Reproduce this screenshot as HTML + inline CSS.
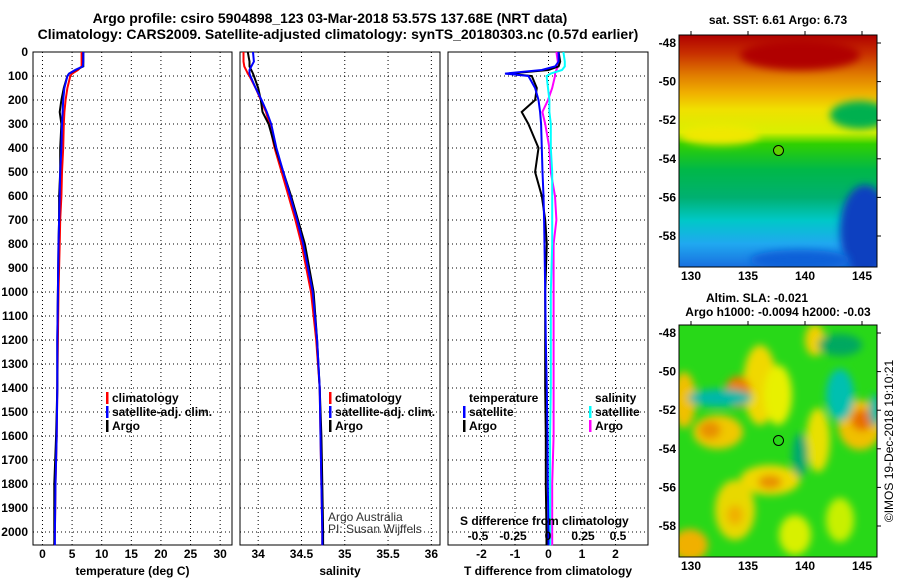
<!DOCTYPE html>
<html><head><meta charset="utf-8"><style>
body{margin:0;background:#fff}
svg{display:block;font-family:"Liberation Sans",Arial,sans-serif}
.b{font-weight:bold;font-size:12px}
.t{font-weight:bold;font-size:14px}
</style></head><body>
<svg id="c" width="900" height="580" viewBox="0 0 900 580" xmlns="http://www.w3.org/2000/svg">
<defs>
<linearGradient id="sst" x1="0" y1="0" x2="0" y2="1">
<stop offset="0" stop-color="#b00000"/><stop offset="0.08" stop-color="#c83000"/>
<stop offset="0.17" stop-color="#e07a00"/><stop offset="0.25" stop-color="#f0b000"/>
<stop offset="0.32" stop-color="#f0e000"/><stop offset="0.42" stop-color="#d8f000"/>
<stop offset="0.47" stop-color="#30d000"/><stop offset="0.58" stop-color="#00b848"/>
<stop offset="0.7" stop-color="#00b070"/><stop offset="0.8" stop-color="#00c8c8"/>
<stop offset="0.9" stop-color="#20a8f0"/><stop offset="1" stop-color="#1870e0"/>
</linearGradient>
<filter id="bl" x="-50%" y="-50%" width="200%" height="200%"><feGaussianBlur stdDeviation="4"/></filter>
<clipPath id="m1"><rect x="679" y="35" width="198" height="232"/></clipPath>
<clipPath id="m2"><rect x="679" y="325" width="198" height="232"/></clipPath>
</defs>
<text class="t" x="330" y="23" text-anchor="middle">Argo profile: csiro 5904898_123 03-Mar-2018 53.57S 137.68E (NRT data)</text>
<text class="t" x="338" y="39" text-anchor="middle">Climatology: CARS2009. Satellite-adjusted climatology: synTS_20180303.nc (0.57d earlier)</text>
<g id="plots"></g>

<!-- SST map -->
<g clip-path="url(#m1)">
<rect x="679" y="35" width="198" height="232" fill="url(#sst)"/>
<ellipse cx="800" cy="55" rx="60" ry="15" fill="#b00000" filter="url(#bl)"/>
<ellipse cx="860" cy="115" rx="30" ry="14" fill="#00b050" filter="url(#bl)"/>
<ellipse cx="865" cy="230" rx="25" ry="45" fill="#0840c0" filter="url(#bl)"/>
<ellipse cx="800" cy="260" rx="50" ry="10" fill="#1060d8" filter="url(#bl)"/>
<ellipse cx="720" cy="135" rx="40" ry="10" fill="#f0e800" filter="url(#bl)"/>
</g>
<rect x="679" y="35" width="198" height="232" fill="none" stroke="#000"/>
<circle cx="778.5" cy="150.5" r="5" fill="#60d000" stroke="#000"/>
<text class="b" x="778" y="24" text-anchor="middle">sat. SST: 6.61 Argo: 6.73</text>

<!-- SLA map -->
<g clip-path="url(#m2)">
<rect x="679" y="325" width="198" height="232" fill="#28d818"/>
<g filter="url(#bl)">
<ellipse cx="684" cy="400" rx="12" ry="28" fill="#f0c000"/>
<ellipse cx="760" cy="385" rx="17" ry="40" fill="#f0d800"/>
<ellipse cx="738" cy="392" rx="13" ry="16" fill="#e88000"/>
<ellipse cx="718" cy="432" rx="25" ry="17" fill="#f0c800"/>
<ellipse cx="710" cy="430" rx="11" ry="9" fill="#e89000"/>
<ellipse cx="778" cy="395" rx="14" ry="30" fill="#e8f000"/>
<ellipse cx="770" cy="480" rx="30" ry="15" fill="#f0d800"/>
<ellipse cx="770" cy="482" rx="12" ry="7" fill="#e89000"/>
<ellipse cx="735" cy="510" rx="20" ry="30" fill="#e8d800"/>
<ellipse cx="735" cy="515" rx="8" ry="10" fill="#f0b000"/>
<ellipse cx="690" cy="545" rx="18" ry="16" fill="#f0b000"/>
<ellipse cx="818" cy="440" rx="12" ry="32" fill="#e8e000"/>
<ellipse cx="860" cy="425" rx="22" ry="25" fill="#f0c000"/>
<ellipse cx="862" cy="420" rx="11" ry="11" fill="#e87000"/>
<ellipse cx="795" cy="535" rx="16" ry="20" fill="#d8f000"/>
<ellipse cx="815" cy="340" rx="10" ry="16" fill="#f0d000"/>
<ellipse cx="840" cy="520" rx="14" ry="22" fill="#c8f000"/>
<ellipse cx="720" cy="398" rx="32" ry="9" fill="#00b8a8"/>
<ellipse cx="840" cy="395" rx="14" ry="26" fill="#00c0b0"/>
<ellipse cx="840" cy="345" rx="22" ry="11" fill="#00a860"/>
<ellipse cx="800" cy="455" rx="8" ry="22" fill="#00a870"/>
<ellipse cx="875" cy="410" rx="6" ry="16" fill="#00b8a8"/>
</g>
</g>
<rect x="679" y="325" width="198" height="232" fill="none" stroke="#000"/>
<circle cx="778.5" cy="440.5" r="5" fill="none" stroke="#000"/>
<text class="b" x="757" y="302" text-anchor="middle">Altim. SLA: -0.021</text>
<text class="b" x="778" y="316" text-anchor="middle">Argo h1000: -0.0094 h2000: -0.03</text>
<text x="893" y="441" font-size="12" text-anchor="middle" transform="rotate(-90 893 441)">©IMOS 19-Dec-2018 19:10:21</text>
<text x="328" y="521" font-size="12" fill="#333">Argo Australia</text>
<text x="328" y="533" font-size="12" fill="#333">PI: Susan Wijffels</text>
</svg>
<script>
// ---- data ----
const depthTicks=[0,100,200,300,400,500,600,700,800,900,1000,1100,1200,1300,1400,1500,1600,1700,1800,1900,2000];
const tempTicks=[0,5,10,15,20,25,30];
const salTicks=[34,34.5,35,35.5,36];
const tdTicks=[-2,-1,0,1,2];
const sdTicks=[-0.5,-0.25,0,0.25,0.5];
const sdTickLabels=["-0.5","-0.25","0","0.25","0.5"];
const profDepth=[0,40,60,75,90,100,150,200,250,300,400,500,600,700,800,1000,1200,1400,1600,1800,2000,2055];
const tempClim=[6.6,6.6,6.6,6.0,5.0,4.7,4.2,3.9,3.7,3.6,3.5,3.3,3.2,3.0,2.9,2.7,2.6,2.5,2.4,2.2,2.1,2.0];
const tempSat=[6.9,6.9,6.8,5.5,4.5,4.2,3.7,3.5,3.4,3.3,3.2,3.0,2.9,2.8,2.7,2.6,2.5,2.5,2.4,2.2,2.1,2.1];
const tempArgo=[6.9,6.9,6.9,5.6,4.5,4.2,3.6,3.2,2.9,3.2,3.0,3.0,2.8,2.8,2.7,2.6,2.5,2.5,2.3,2.0,2.0,2.0];
const salClim=[33.83,33.83,33.84,33.86,33.88,33.9,33.97,34.03,34.09,34.13,34.19,34.27,34.35,34.43,34.5,34.61,34.67,34.71,34.72,34.73,34.74,34.74];
const salSat=[33.94,33.95,33.92,33.9,33.9,33.91,33.97,34.04,34.1,34.15,34.21,34.29,34.37,34.45,34.52,34.63,34.68,34.71,34.72,34.73,34.74,34.74];
const salArgo=[33.88,33.9,33.9,33.92,33.94,33.95,34.0,34.03,34.05,34.12,34.2,34.29,34.38,34.46,34.54,34.64,34.68,34.71,34.73,34.74,34.75,34.75];
const tdSat=[0.3,0.3,0.2,-0.2,-1.3,-0.6,-0.4,-0.3,-0.25,-0.22,-0.2,-0.18,-0.15,-0.13,-0.12,-0.1,-0.08,-0.05,-0.03,-0.02,0,0];
const tdArgo=[0.3,0.35,0.3,0,-1.2,-0.5,-0.35,-0.4,-0.8,-0.6,-0.3,-0.4,-0.2,-0.1,-0.05,-0.1,-0.1,-0.1,-0.08,-0.08,-0.06,-0.06];
const sdSat=[0.11,0.12,0.12,0.1,0.02,-0.01,0.0,0.01,0.01,0.02,0.02,0.03,0.03,0.03,0.03,0.02,0.02,0.02,0.015,0.015,0.015,0.015];
const sdArgo=[0.06,0.07,0.07,0.06,0.05,0.05,0.03,0.0,-0.04,-0.02,0.01,0.02,0.05,0.06,0.04,0.04,0.04,0.04,0.04,0.03,0.03,0.03];
const mapLonTicks=[130,135,140,145];
const mapLatTicks=[-48,-50,-52,-54,-56,-58];

// ---- layout ----
const NS="http://www.w3.org/2000/svg";
const svg=document.getElementById('c');
const g=document.getElementById('plots');
const Y0=52,Y1=545;
const yD=d=>Y0+d*0.24;
function el(t,a,p){const e=document.createElementNS(NS,t);for(const k in a)e.setAttribute(k,a[k]);(p||g).appendChild(e);return e;}
function txt(x,y,s,anchor,cls,fill,p){const e=el('text',{x:x,y:y,'text-anchor':anchor||'start',class:cls||'b',fill:fill||'#000'},p);e.textContent=s;return e;}
const panels=[
 {L:33,R:232,min:-1.6,max:32.0,ticks:tempTicks,title:'temperature (deg C)',name:'temperature'},
 {L:240,R:440,min:33.79,max:36.1,ticks:salTicks,title:'salinity',name:'salinity'},
 {L:448,R:648,min:-3.0,max:2.97,ticks:tdTicks,title:'T difference from climatology',name:'difference'}
];
panels.forEach((P,i)=>{
 const xs=v=>P.L+(v-P.min)/(P.max-P.min)*(P.R-P.L);
 P.xs=xs;
 depthTicks.forEach(d=>{
  const l=el('line',{x1:P.L,x2:P.R,y1:yD(d),y2:yD(d),stroke:'#000','stroke-dasharray':'1,3'});
  
  
  if(i===0){const t=txt(28,yD(d)+4,String(d),'end');
   
   }
 });
 P.ticks.forEach(v=>{
  const l=el('line',{x1:xs(v),x2:xs(v),y1:Y0,y2:Y1,stroke:'#000','stroke-dasharray':'1,3'});
  
  
  const t=txt(xs(v),558,String(v),'middle');
  
  
 });
 const f=el('rect',{x:P.L,y:Y0,width:P.R-P.L,height:Y1-Y0,fill:'none',stroke:'#000'});
 
 
 const at=txt((P.L+P.R)/2,575,P.title,'middle');
 
 
});
const sdx=v=>548+v*140;
function line(xf,vals,color,name,w){
 const pts=vals.map((v,k)=>xf(v).toFixed(1)+','+yD(profDepth[k]).toFixed(1)).join(' ');
 const p=el('polyline',{points:pts,fill:'none',stroke:color,'stroke-width':w||2});
 
 
}
line(panels[0].xs,tempClim,'#f00','temp-climatology-line');
line(panels[0].xs,tempArgo,'#000','temp-argo-line');
line(panels[0].xs,tempSat,'#00f','temp-satellite-line');
line(panels[1].xs,salClim,'#f00','sal-climatology-line');
line(panels[1].xs,salArgo,'#000','sal-argo-line');
line(panels[1].xs,salSat,'#00f','sal-satellite-line');
line(sdx,sdArgo,'#f0f','sdiff-argo-line');
line(sdx,sdSat,'#0ff','sdiff-satellite-line');
line(panels[2].xs,tdArgo,'#000','tdiff-argo-line');
line(panels[2].xs,tdSat,'#00f','tdiff-satellite-line');
const sdt=txt(460,525,'S difference from climatology','start');


sdTicks.forEach((v,k)=>{const t=txt(sdx(v),540,sdTickLabels[k],'middle');
 
 });
function leg(x,y,color,label){
 const r=el('rect',{x:x-6,y:y-10,width:2.5,height:12,fill:color});
 
 
 const t=txt(x,y,label);
 
 
}
[[112,'#f00','climatology'],[112,'#00f','satellite-adj. clim.'],[112,'#000','Argo']].forEach((a,k)=>leg(a[0],402+k*14,a[1],a[2]));
[[335,'#f00','climatology'],[335,'#00f','satellite-adj. clim.'],[335,'#000','Argo']].forEach((a,k)=>leg(a[0],402+k*14,a[1],a[2]));
const lt=txt(469,402,'temperature');
const ls=txt(595,402,'salinity');
leg(469,416,'#00f','satellite');leg(469,430,'#000','Argo');
leg(595,416,'#0ff','satellite');leg(595,430,'#f0f','Argo');
const lonX=v=>691+(v-130)*11.4;
[[35,267,43,280],[325,557,333,570]].forEach((m,mi)=>{
 const latY=v=>m[2]+(-48-v)*19.3;
 mapLonTicks.forEach(v=>{
  const t=txt(lonX(v),m[3],String(v),'middle');
  
  
  const a=el('line',{x1:lonX(v),x2:lonX(v),y1:m[0]-4,y2:m[0],stroke:'#000'});
  
  
 });
 mapLatTicks.forEach(v=>{
  const t=txt(676,latY(v)+4,String(v),'end');
  
  
  const a=el('line',{x1:877,x2:881,y1:latY(v),y2:latY(v),stroke:'#000'});
  
  
 });
});
</script>
</body></html>
